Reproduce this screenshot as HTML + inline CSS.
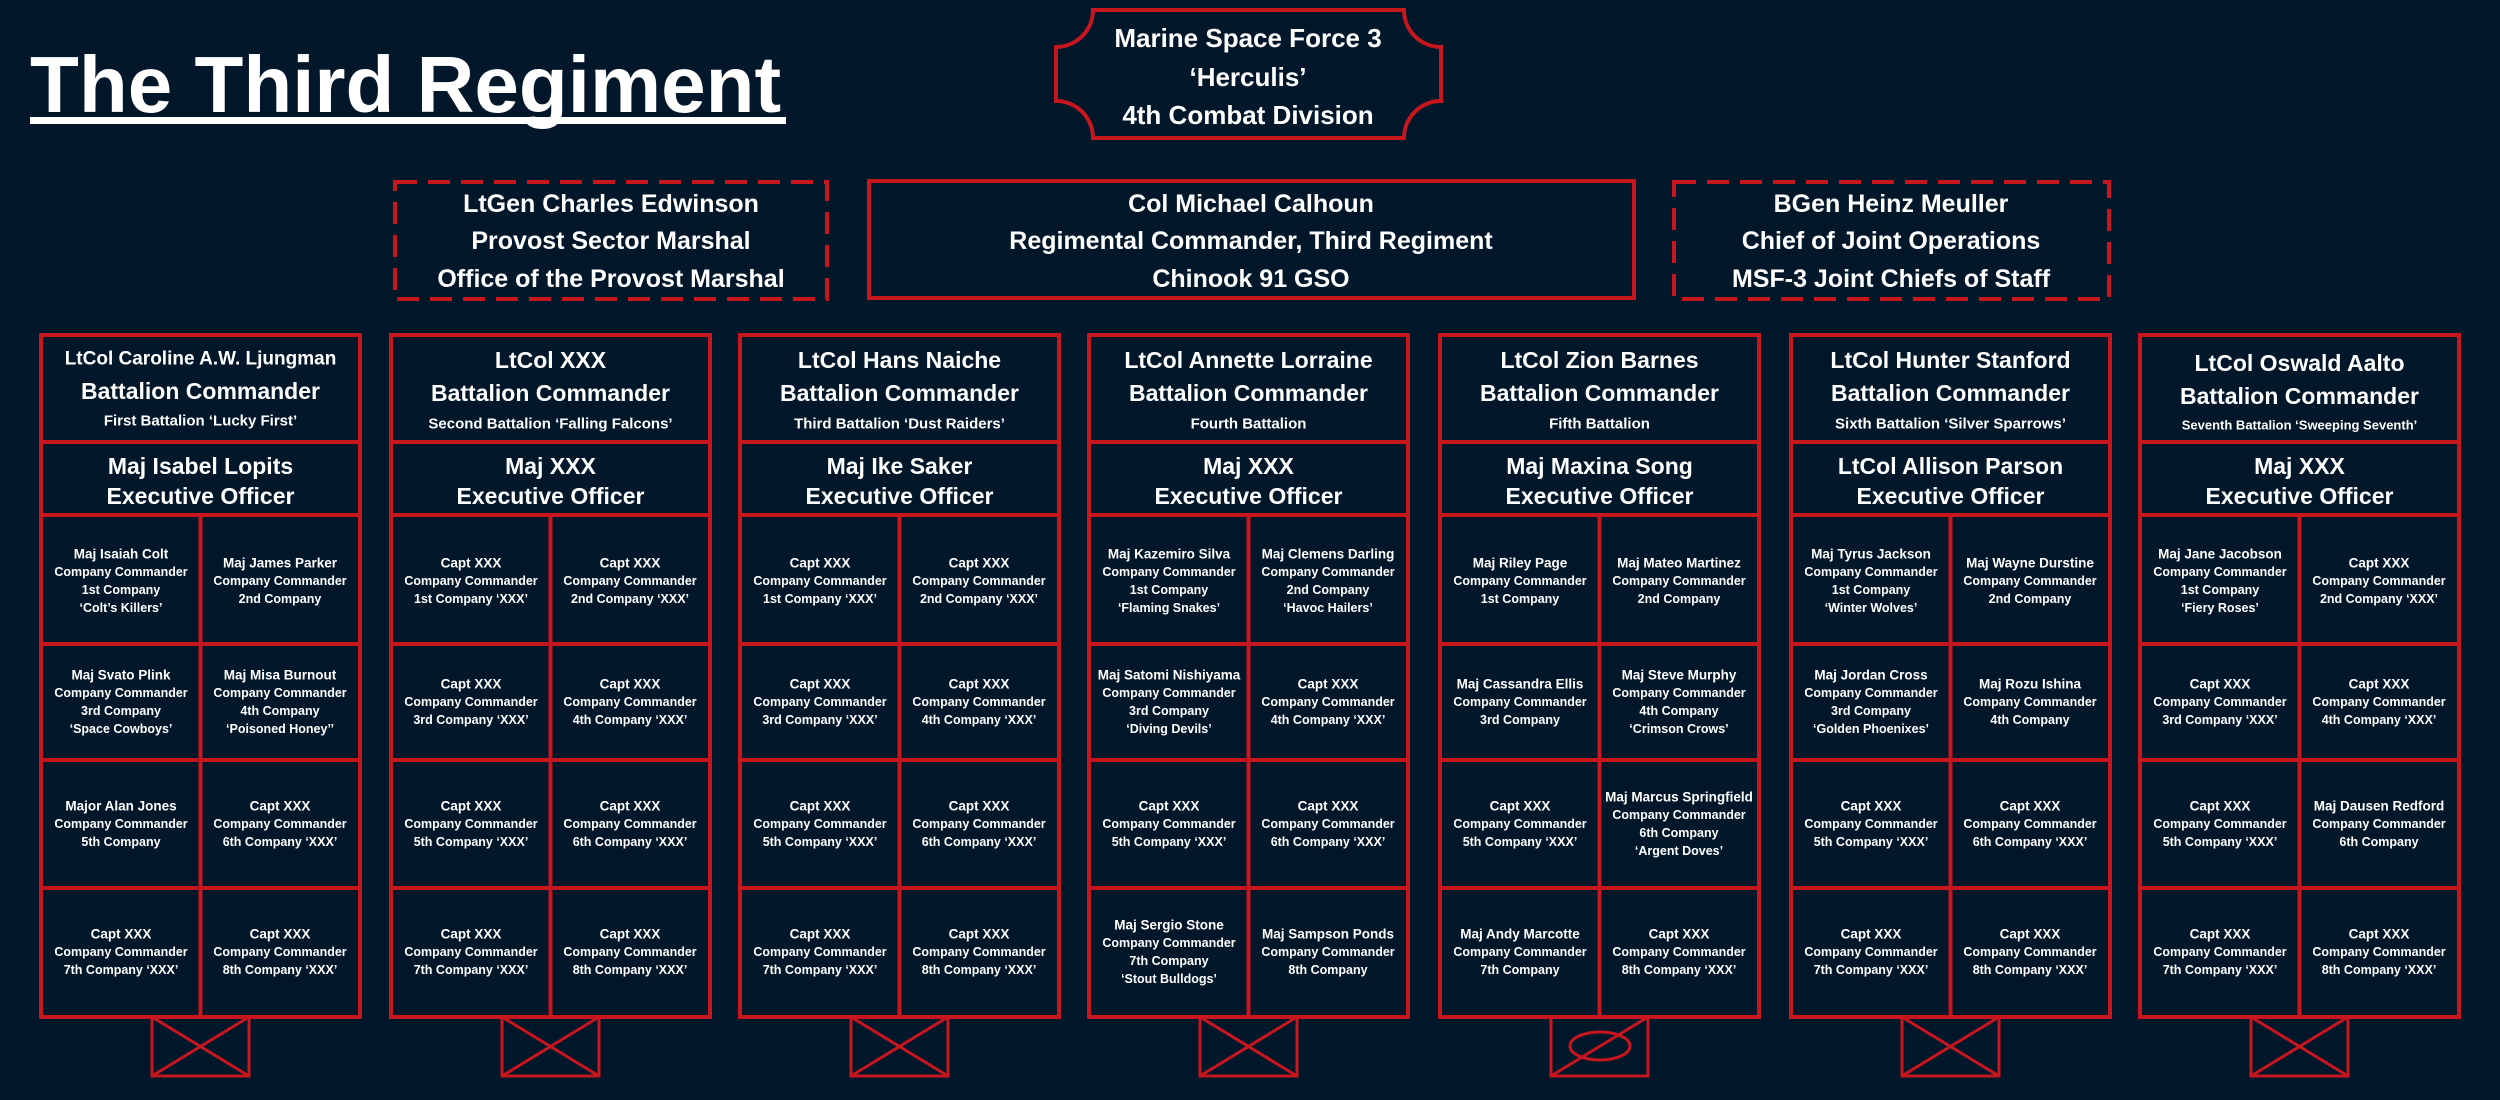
<!DOCTYPE html>
<html><head><meta charset="utf-8"><style>
html,body{margin:0;padding:0;background:#02172a;}
svg{display:block;}
text{font-family:"Liberation Sans",sans-serif;font-weight:bold;fill:#fff;text-anchor:middle;dominant-baseline:central;}
.h{font-size:23px}.s{font-size:15px}.s2{font-size:13px}.t{font-size:25px}.m{font-size:26px}
.n{font-size:13.5px}.c{font-size:12.5px}
.b{fill:none;stroke:#c8161e;stroke-width:4}
.bt{fill:none;stroke:#c8161e;stroke-width:3}
</style></head><body>
<svg width="2500" height="1100" viewBox="0 0 2500 1100" xmlns="http://www.w3.org/2000/svg">
<rect width="2500" height="1100" fill="#02172a"/>
<text x="30" y="112" style="font-size:80px;text-anchor:start;dominant-baseline:auto">The Third Regiment</text>
<rect x="30" y="117" width="756" height="7" fill="#fff"/>

<path class="b" d="M1093 10 H1404 A37 37 0 0 0 1441 47 V101 A37 37 0 0 0 1404 138 H1093 A37 37 0 0 0 1056 101 V47 A37 37 0 0 0 1093 10 Z"/>
<text class="m" x="1248" y="38">Marine Space Force 3</text>
<text class="m" x="1248" y="77">‘Herculis’</text>
<text class="m" x="1248" y="115">4th Combat Division</text>

<rect class="b" x="395" y="182" width="432" height="117" stroke-dasharray="22 11"/>
<text class="t" x="611" y="204">LtGen Charles Edwinson</text>
<text class="t" x="611" y="241">Provost Sector Marshal</text>
<text class="t" x="611" y="279">Office of the Provost Marshal</text>

<rect class="b" x="869" y="181" width="765" height="117"/>
<text class="t" x="1251" y="204">Col Michael Calhoun</text>
<text class="t" x="1251" y="241">Regimental Commander, Third Regiment</text>
<text class="t" x="1251" y="279">Chinook 91 GSO</text>

<rect class="b" x="1674" y="182" width="435" height="117" stroke-dasharray="22 11"/>
<text class="t" x="1891" y="204">BGen Heinz Meuller</text>
<text class="t" x="1891" y="241">Chief of Joint Operations</text>
<text class="t" x="1891" y="279">MSF-3 Joint Chiefs of Staff</text>

<defs>
<g id="frame">
<rect class="b" x="0" y="0" width="319" height="682"/>
<line class="b" x1="0" y1="107" x2="319" y2="107"/>
<line class="b" x1="0" y1="180" x2="319" y2="180"/>
<line class="b" x1="0" y1="309" x2="319" y2="309"/>
<line class="b" x1="0" y1="425" x2="319" y2="425"/>
<line class="b" x1="0" y1="553" x2="319" y2="553"/>
<line class="b" x1="159.5" y1="180" x2="159.5" y2="682"/>
<rect class="bt" x="111" y="682" width="97" height="59"/>
</g>
<g id="xx"><line class="bt" x1="111" y1="682" x2="208" y2="741"/><line class="bt" x1="208" y1="682" x2="111" y2="741"/></g>
</defs>

<!-- Column 1 -->
<g transform="translate(41,335)">
<use href="#frame"/><use href="#xx"/>
<text class="h" x="159.5" y="24" style="font-size:19px">LtCol Caroline A.W. Ljungman</text>
<text class="h" x="159.5" y="56">Battalion Commander</text>
<text class="s" x="159.5" y="86">First Battalion ‘Lucky First’</text>
<text class="h" x="159.5" y="131">Maj Isabel Lopits</text>
<text class="h" x="159.5" y="161">Executive Officer</text>
<text class="n" x="80" y="219">Maj Isaiah Colt</text><text class="c" x="80" y="237">Company Commander</text><text class="c" x="80" y="255">1st Company</text><text class="c" x="80" y="273">‘Colt’s Killers’</text>
<text class="n" x="239" y="228">Maj James Parker</text><text class="c" x="239" y="246">Company Commander</text><text class="c" x="239" y="264">2nd Company</text>
<text class="n" x="80" y="340">Maj Svato Plink</text><text class="c" x="80" y="358">Company Commander</text><text class="c" x="80" y="376">3rd Company</text><text class="c" x="80" y="394">‘Space Cowboys’</text>
<text class="n" x="239" y="340">Maj Misa Burnout</text><text class="c" x="239" y="358">Company Commander</text><text class="c" x="239" y="376">4th Company</text><text class="c" x="239" y="394">‘Poisoned Honey’’</text>
<text class="n" x="80" y="471">Major Alan Jones</text><text class="c" x="80" y="489">Company Commander</text><text class="c" x="80" y="507">5th Company</text>
<text class="n" x="239" y="471">Capt XXX</text><text class="c" x="239" y="489">Company Commander</text><text class="c" x="239" y="507">6th Company ‘XXX’</text>
<text class="n" x="80" y="599">Capt XXX</text><text class="c" x="80" y="617">Company Commander</text><text class="c" x="80" y="635">7th Company ‘XXX’</text>
<text class="n" x="239" y="599">Capt XXX</text><text class="c" x="239" y="617">Company Commander</text><text class="c" x="239" y="635">8th Company ‘XXX’</text>
</g>

<!-- Column 2 -->
<g transform="translate(391,335)">
<use href="#frame"/><use href="#xx"/>
<text class="h" x="159.5" y="25">LtCol XXX</text>
<text class="h" x="159.5" y="58">Battalion Commander</text>
<text class="s" x="159.5" y="89">Second Battalion ‘Falling Falcons’</text>
<text class="h" x="159.5" y="131">Maj XXX</text>
<text class="h" x="159.5" y="161">Executive Officer</text>
<text class="n" x="80" y="228">Capt XXX</text><text class="c" x="80" y="246">Company Commander</text><text class="c" x="80" y="264">1st Company ‘XXX’</text>
<text class="n" x="239" y="228">Capt XXX</text><text class="c" x="239" y="246">Company Commander</text><text class="c" x="239" y="264">2nd Company ‘XXX’</text>
<text class="n" x="80" y="349">Capt XXX</text><text class="c" x="80" y="367">Company Commander</text><text class="c" x="80" y="385">3rd Company ‘XXX’</text>
<text class="n" x="239" y="349">Capt XXX</text><text class="c" x="239" y="367">Company Commander</text><text class="c" x="239" y="385">4th Company ‘XXX’</text>
<text class="n" x="80" y="471">Capt XXX</text><text class="c" x="80" y="489">Company Commander</text><text class="c" x="80" y="507">5th Company ‘XXX’</text>
<text class="n" x="239" y="471">Capt XXX</text><text class="c" x="239" y="489">Company Commander</text><text class="c" x="239" y="507">6th Company ‘XXX’</text>
<text class="n" x="80" y="599">Capt XXX</text><text class="c" x="80" y="617">Company Commander</text><text class="c" x="80" y="635">7th Company ‘XXX’</text>
<text class="n" x="239" y="599">Capt XXX</text><text class="c" x="239" y="617">Company Commander</text><text class="c" x="239" y="635">8th Company ‘XXX’</text>
</g>

<!-- Column 3 -->
<g transform="translate(740,335)">
<use href="#frame"/><use href="#xx"/>
<text class="h" x="159.5" y="25">LtCol Hans Naiche</text>
<text class="h" x="159.5" y="58">Battalion Commander</text>
<text class="s" x="159.5" y="89">Third Battalion ‘Dust Raiders’</text>
<text class="h" x="159.5" y="131">Maj Ike Saker</text>
<text class="h" x="159.5" y="161">Executive Officer</text>
<text class="n" x="80" y="228">Capt XXX</text><text class="c" x="80" y="246">Company Commander</text><text class="c" x="80" y="264">1st Company ‘XXX’</text>
<text class="n" x="239" y="228">Capt XXX</text><text class="c" x="239" y="246">Company Commander</text><text class="c" x="239" y="264">2nd Company ‘XXX’</text>
<text class="n" x="80" y="349">Capt XXX</text><text class="c" x="80" y="367">Company Commander</text><text class="c" x="80" y="385">3rd Company ‘XXX’</text>
<text class="n" x="239" y="349">Capt XXX</text><text class="c" x="239" y="367">Company Commander</text><text class="c" x="239" y="385">4th Company ‘XXX’</text>
<text class="n" x="80" y="471">Capt XXX</text><text class="c" x="80" y="489">Company Commander</text><text class="c" x="80" y="507">5th Company ‘XXX’</text>
<text class="n" x="239" y="471">Capt XXX</text><text class="c" x="239" y="489">Company Commander</text><text class="c" x="239" y="507">6th Company ‘XXX’</text>
<text class="n" x="80" y="599">Capt XXX</text><text class="c" x="80" y="617">Company Commander</text><text class="c" x="80" y="635">7th Company ‘XXX’</text>
<text class="n" x="239" y="599">Capt XXX</text><text class="c" x="239" y="617">Company Commander</text><text class="c" x="239" y="635">8th Company ‘XXX’</text>
</g>

<!-- Column 4 -->
<g transform="translate(1089,335)">
<use href="#frame"/><use href="#xx"/>
<text class="h" x="159.5" y="25">LtCol Annette Lorraine</text>
<text class="h" x="159.5" y="58">Battalion Commander</text>
<text class="s" x="159.5" y="89">Fourth Battalion</text>
<text class="h" x="159.5" y="131">Maj XXX</text>
<text class="h" x="159.5" y="161">Executive Officer</text>
<text class="n" x="80" y="219">Maj Kazemiro Silva</text><text class="c" x="80" y="237">Company Commander</text><text class="c" x="80" y="255">1st Company</text><text class="c" x="80" y="273">‘Flaming Snakes’</text>
<text class="n" x="239" y="219">Maj Clemens Darling</text><text class="c" x="239" y="237">Company Commander</text><text class="c" x="239" y="255">2nd Company</text><text class="c" x="239" y="273">‘Havoc Hailers’</text>
<text class="n" x="80" y="340">Maj Satomi Nishiyama</text><text class="c" x="80" y="358">Company Commander</text><text class="c" x="80" y="376">3rd Company</text><text class="c" x="80" y="394">‘Diving Devils’</text>
<text class="n" x="239" y="349">Capt XXX</text><text class="c" x="239" y="367">Company Commander</text><text class="c" x="239" y="385">4th Company ‘XXX’</text>
<text class="n" x="80" y="471">Capt XXX</text><text class="c" x="80" y="489">Company Commander</text><text class="c" x="80" y="507">5th Company ‘XXX’</text>
<text class="n" x="239" y="471">Capt XXX</text><text class="c" x="239" y="489">Company Commander</text><text class="c" x="239" y="507">6th Company ‘XXX’</text>
<text class="n" x="80" y="590">Maj Sergio Stone</text><text class="c" x="80" y="608">Company Commander</text><text class="c" x="80" y="626">7th Company</text><text class="c" x="80" y="644">‘Stout Bulldogs’</text>
<text class="n" x="239" y="599">Maj Sampson Ponds</text><text class="c" x="239" y="617">Company Commander</text><text class="c" x="239" y="635">8th Company</text>
</g>

<!-- Column 5 -->
<g transform="translate(1440,335)">
<use href="#frame"/>
<line class="bt" x1="111" y1="741" x2="208" y2="682"/>
<ellipse class="bt" cx="160" cy="711" rx="30" ry="14"/>
<text class="h" x="159.5" y="25">LtCol Zion Barnes</text>
<text class="h" x="159.5" y="58">Battalion Commander</text>
<text class="s" x="159.5" y="89">Fifth Battalion</text>
<text class="h" x="159.5" y="131">Maj Maxina Song</text>
<text class="h" x="159.5" y="161">Executive Officer</text>
<text class="n" x="80" y="228">Maj Riley Page</text><text class="c" x="80" y="246">Company Commander</text><text class="c" x="80" y="264">1st Company</text>
<text class="n" x="239" y="228">Maj Mateo Martinez</text><text class="c" x="239" y="246">Company Commander</text><text class="c" x="239" y="264">2nd Company</text>
<text class="n" x="80" y="349">Maj Cassandra Ellis</text><text class="c" x="80" y="367">Company Commander</text><text class="c" x="80" y="385">3rd Company</text>
<text class="n" x="239" y="340">Maj Steve Murphy</text><text class="c" x="239" y="358">Company Commander</text><text class="c" x="239" y="376">4th Company</text><text class="c" x="239" y="394">‘Crimson Crows’</text>
<text class="n" x="80" y="471">Capt XXX</text><text class="c" x="80" y="489">Company Commander</text><text class="c" x="80" y="507">5th Company ‘XXX’</text>
<text class="n" x="239" y="462">Maj Marcus Springfield</text><text class="c" x="239" y="480">Company Commander</text><text class="c" x="239" y="498">6th Company</text><text class="c" x="239" y="516">‘Argent Doves’</text>
<text class="n" x="80" y="599">Maj Andy Marcotte</text><text class="c" x="80" y="617">Company Commander</text><text class="c" x="80" y="635">7th Company</text>
<text class="n" x="239" y="599">Capt XXX</text><text class="c" x="239" y="617">Company Commander</text><text class="c" x="239" y="635">8th Company ‘XXX’</text>
</g>

<!-- Column 6 -->
<g transform="translate(1791,335)">
<use href="#frame"/><use href="#xx"/>
<text class="h" x="159.5" y="25">LtCol Hunter Stanford</text>
<text class="h" x="159.5" y="58">Battalion Commander</text>
<text class="s" x="159.5" y="89">Sixth Battalion ‘Silver Sparrows’</text>
<text class="h" x="159.5" y="131">LtCol Allison Parson</text>
<text class="h" x="159.5" y="161">Executive Officer</text>
<text class="n" x="80" y="219">Maj Tyrus Jackson</text><text class="c" x="80" y="237">Company Commander</text><text class="c" x="80" y="255">1st Company</text><text class="c" x="80" y="273">‘Winter Wolves’</text>
<text class="n" x="239" y="228">Maj Wayne Durstine</text><text class="c" x="239" y="246">Company Commander</text><text class="c" x="239" y="264">2nd Company</text>
<text class="n" x="80" y="340">Maj Jordan Cross</text><text class="c" x="80" y="358">Company Commander</text><text class="c" x="80" y="376">3rd Company</text><text class="c" x="80" y="394">‘Golden Phoenixes’</text>
<text class="n" x="239" y="349">Maj Rozu Ishina</text><text class="c" x="239" y="367">Company Commander</text><text class="c" x="239" y="385">4th Company</text>
<text class="n" x="80" y="471">Capt XXX</text><text class="c" x="80" y="489">Company Commander</text><text class="c" x="80" y="507">5th Company ‘XXX’</text>
<text class="n" x="239" y="471">Capt XXX</text><text class="c" x="239" y="489">Company Commander</text><text class="c" x="239" y="507">6th Company ‘XXX’</text>
<text class="n" x="80" y="599">Capt XXX</text><text class="c" x="80" y="617">Company Commander</text><text class="c" x="80" y="635">7th Company ‘XXX’</text>
<text class="n" x="239" y="599">Capt XXX</text><text class="c" x="239" y="617">Company Commander</text><text class="c" x="239" y="635">8th Company ‘XXX’</text>
</g>

<!-- Column 7 -->
<g transform="translate(2140,335)">
<use href="#frame"/><use href="#xx"/>
<text class="h" x="159.5" y="28">LtCol Oswald Aalto</text>
<text class="h" x="159.5" y="61">Battalion Commander</text>
<text class="s2" x="159.5" y="90">Seventh Battalion ‘Sweeping Seventh’</text>
<text class="h" x="159.5" y="131">Maj XXX</text>
<text class="h" x="159.5" y="161">Executive Officer</text>
<text class="n" x="80" y="219">Maj Jane Jacobson</text><text class="c" x="80" y="237">Company Commander</text><text class="c" x="80" y="255">1st Company</text><text class="c" x="80" y="273">‘Fiery Roses’</text>
<text class="n" x="239" y="228">Capt XXX</text><text class="c" x="239" y="246">Company Commander</text><text class="c" x="239" y="264">2nd Company ‘XXX’</text>
<text class="n" x="80" y="349">Capt XXX</text><text class="c" x="80" y="367">Company Commander</text><text class="c" x="80" y="385">3rd Company ‘XXX’</text>
<text class="n" x="239" y="349">Capt XXX</text><text class="c" x="239" y="367">Company Commander</text><text class="c" x="239" y="385">4th Company ‘XXX’</text>
<text class="n" x="80" y="471">Capt XXX</text><text class="c" x="80" y="489">Company Commander</text><text class="c" x="80" y="507">5th Company ‘XXX’</text>
<text class="n" x="239" y="471">Maj Dausen Redford</text><text class="c" x="239" y="489">Company Commander</text><text class="c" x="239" y="507">6th Company</text>
<text class="n" x="80" y="599">Capt XXX</text><text class="c" x="80" y="617">Company Commander</text><text class="c" x="80" y="635">7th Company ‘XXX’</text>
<text class="n" x="239" y="599">Capt XXX</text><text class="c" x="239" y="617">Company Commander</text><text class="c" x="239" y="635">8th Company ‘XXX’</text>
</g>
</svg>
</body></html>
